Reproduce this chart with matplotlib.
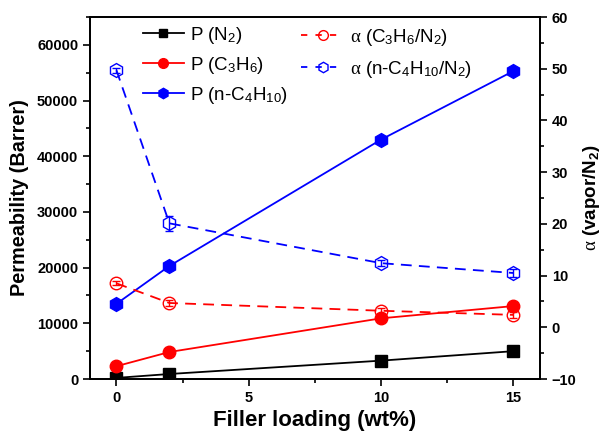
import numpy as np
import matplotlib
matplotlib.use("Agg")
import matplotlib.pyplot as plt
from matplotlib.ticker import MultipleLocator
from matplotlib.lines import Line2D

plt.rcParams['font.family'] = ['Liberation Sans', 'DejaVu Sans']
plt.rcParams['mathtext.fontset'] = 'custom'
plt.rcParams['mathtext.rm'] = 'Liberation Sans'
plt.rcParams['mathtext.it'] = 'Liberation Serif'
plt.rcParams['mathtext.bf'] = 'Liberation Sans:bold'

loading = [0, 2, 10, 15]
p_n2 = [200, 900, 3300, 5000]
p_c3h6 = [2300, 4850, 10900, 13100]
p_c4h10 = [13500, 20300, 43000, 55300]
a_c3h6 = [8.5, 4.7, 3.2, 2.4]
a_c3h6_err = [0.4, 0.6, 0.6, 0.6]
a_c4h10 = [49.7, 20.1, 12.4, 10.5]
a_c4h10_err = [0.5, 1.5, 0.6, 0.8]

dash = (0, (6, 4))

fig = plt.figure(figsize=(6.06, 4.36), dpi=100)
ax = fig.add_axes([0.1485, 0.1307, 0.7425, 0.8303])
ax2 = ax.twinx()

ax.plot(loading, p_n2, color='black', marker='s', ms=8, lw=1.3)
ax.plot(loading, p_c3h6, color='red', marker='o', ms=9, lw=1.3)
ax.plot(loading, p_c4h10, color='blue', marker='h', ms=10, lw=1.3)

ax2.errorbar(loading, a_c3h6, yerr=a_c3h6_err, color='red', marker='o', ms=9, mfc='none',
             lw=1.3, ls=dash, capsize=3, elinewidth=1)
ax2.errorbar(loading, a_c4h10, yerr=a_c4h10_err, color='blue', marker='h', ms=10, mfc='none',
             lw=1.3, ls=dash, capsize=3, elinewidth=1)

ax.set_xlim(-1, 16)
ax.set_ylim(0, 65000)
ax2.set_ylim(-10, 60)

ax.xaxis.set_major_locator(MultipleLocator(5))
ax.xaxis.set_minor_locator(MultipleLocator(2.5))
ax.yaxis.set_major_locator(MultipleLocator(10000))
ax.yaxis.set_minor_locator(MultipleLocator(5000))
ax2.yaxis.set_major_locator(MultipleLocator(10))
ax2.yaxis.set_minor_locator(MultipleLocator(5))

for a in (ax, ax2):
    a.tick_params(which='major', direction='out', length=5, width=1.2, labelsize=10.5)
    a.tick_params(which='minor', direction='out', length=3, width=1.2)
    for s in a.spines.values():
        s.set_linewidth(1.3)
    for lab in a.get_xticklabels() + a.get_yticklabels():
        lab.set_fontweight('bold')
ax.tick_params(top=False, which='both')

ax.set_xlabel('Filler loading (wt%)', fontsize=16, fontweight='bold', labelpad=4)
ax.set_ylabel('Permeability (Barrer)', fontsize=14.3, fontweight='bold', labelpad=6)
ax2.set_ylabel(r'$\alpha$ $\mathbf{(vapor/N_2)}$', fontsize=13.5, labelpad=3)

# legends: permeabilities (left column) and selectivities (right column)
p_handles = [
    Line2D([], [], color='black', marker='s', ms=6, lw=1.3),
    Line2D([], [], color='red', marker='o', ms=7, lw=1.3),
    Line2D([], [], color='blue', marker='h', ms=7.5, lw=1.3),
]
p_labels = ['P (N$_2$)', 'P (C$_3$H$_6$)', 'P (n-C$_4$H$_{10}$)']
a_handles = [
    Line2D([], [], color='red', marker='o', ms=7, mfc='none', lw=1.3, ls=(0, (3.5, 4.5))),
    Line2D([], [], color='blue', marker='h', ms=7.5, mfc='none', lw=1.3, ls=(0, (3.5, 4.5))),
]
a_labels = [r'$\alpha$ (C$_3$H$_6$/N$_2$)', r'$\alpha$ (n-C$_4$H$_{10}$/N$_2$)']

leg1 = ax.legend(p_handles, p_labels, loc='upper left', bbox_to_anchor=(0.088, 1.015),
                 frameon=False, fontsize=13.5, handlelength=2.2, handletextpad=0.3,
                 labelspacing=0.48, borderaxespad=0.3)
ax.add_artist(leg1)
ax.legend(a_handles, a_labels, loc='upper left', bbox_to_anchor=(0.44, 1.01),
          frameon=False, fontsize=13.5, handlelength=2.3, handletextpad=0.3,
          labelspacing=0.6, borderaxespad=0.3)

fig.savefig('out.png', dpi=100)
